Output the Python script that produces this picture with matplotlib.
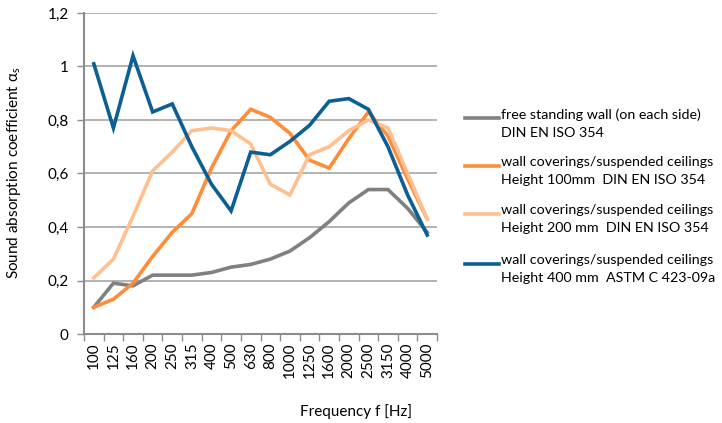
import matplotlib
matplotlib.use("Agg")
import matplotlib.pyplot as plt
from matplotlib.lines import Line2D

plt.rcParams['font.family'] = ['Lato', 'DejaVu Sans']
plt.rcParams['mathtext.fontset'] = 'custom'
plt.rcParams['mathtext.rm'] = 'Lato'

freqs = ["100", "125", "160", "200", "250", "315", "400", "500", "630", "800",
         "1000", "1250", "1600", "2000", "2500", "3150", "4000", "5000"]

free_standing = [0.10, 0.19, 0.18, 0.22, 0.22, 0.22, 0.23, 0.25, 0.26, 0.28,
                 0.31, 0.36, 0.42, 0.49, 0.54, 0.54, 0.47, 0.38]
height_100 = [0.10, 0.13, 0.19, 0.29, 0.38, 0.45, 0.62, 0.76, 0.84, 0.81,
              0.75, 0.65, 0.62, 0.73, 0.83, 0.74, 0.58, 0.43]
height_200 = [0.21, 0.28, 0.44, 0.61, 0.68, 0.76, 0.77, 0.76, 0.71, 0.56,
              0.52, 0.67, 0.70, 0.76, 0.80, 0.77, 0.60, 0.43]
height_400 = [1.01, 0.77, 1.04, 0.83, 0.86, 0.70, 0.56, 0.46, 0.68, 0.67,
              0.72, 0.78, 0.87, 0.88, 0.84, 0.70, 0.52, 0.37]

labels = [
    "free standing wall (on each side)\nDIN EN ISO 354",
    "wall coverings/suspended ceilings\nHeight 100mm  DIN EN ISO 354",
    "wall coverings/suspended ceilings\nHeight 200 mm  DIN EN ISO 354",
    "wall coverings/suspended ceilings\nHeight 400 mm  ASTM C 423-09a",
]
colors = ["#808080", "#FF8C3A", "#FFBF8F", "#0B5F93"]
series = [free_standing, height_100, height_200, height_400]
yticks = [0, 0.2, 0.4, 0.6, 0.8, 1.0, 1.2]
ytick_labels = ["0", "0,2", "0,4", "0,6", "0,8", "1", "1,2"]

fig = plt.figure(figsize=(7.22, 4.23), dpi=100)
ax = fig.add_axes([84/722, 1-334/423, (437-84)/722, (334-13)/423])

x = list(range(len(freqs)))
for vals, c in zip(series, colors):
    ax.plot(x, vals, color=c, lw=2.6, solid_joinstyle='miter', zorder=3)

ax.set_xlim(-0.5, len(freqs)-0.5)
ax.set_ylim(0, 1.2)
ax.set_yticks(yticks)
ax.set_yticklabels(ytick_labels, fontsize=11)
ax.set_xticks(x)
ax.set_xticklabels(freqs, rotation=90, fontsize=11)
ax.set_xticks([i - 0.5 for i in range(len(freqs)+1)], minor=True)
ax.tick_params(axis='x', which='major', length=0, pad=6)
ax.tick_params(axis='x', which='minor', length=5, color='#8c8c8c', width=1)
ax.tick_params(axis='y', length=5, color='#8c8c8c', width=1, pad=6)
ax.grid(axis='y', color='#a6a6a6', lw=1.2, zorder=0)
for s in ['top', 'right']:
    ax.spines[s].set_visible(False)
ax.spines['left'].set_color('#8c8c8c')
ax.spines['bottom'].set_color('#8c8c8c')
ax.spines['left'].set_linewidth(1.5)
ax.spines['bottom'].set_linewidth(1.5)

fig.text(14/722, 1-173/423, "Sound absorption coefficient α$_\\mathregular{s}$",
         rotation=90, ha='center', va='center', fontsize=11)
fig.text(356/722, 1-412/423, "Frequency f [Hz]", ha='center', va='center', fontsize=11)

legend_y = [118, 166, 214, 264]
for lab, c, yy in zip(labels, colors, legend_y):
    fy = 1 - yy/423
    fig.add_artist(Line2D([465/722, 499/722], [fy, fy], color=c, lw=2.6,
                          transform=fig.transFigure))
    fig.text(501/722, fy + 0.023, lab, ha='left', va='top', fontsize=10.3,
             linespacing=1.6)

fig.savefig("out.png", dpi=100)
